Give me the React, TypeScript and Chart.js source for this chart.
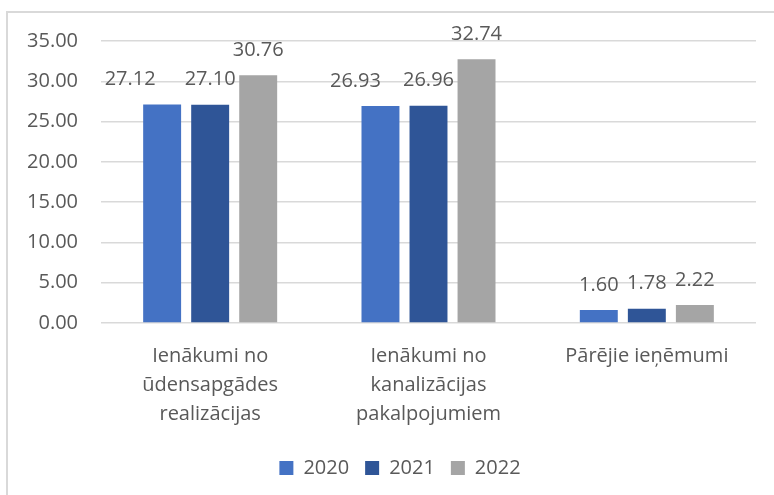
import React, { useEffect, useRef } from "react";
import { Chart, registerables } from "chart.js";

Chart.register(...registerables);

const categories: string[][] = [
  ["Ienākumi no", "ūdensapgādes", "realizācijas"],
  ["Ienākumi no", "kanalizācijas", "pakalpojumiem"],
  ["Pārējie ieņēmumi"],
];
const seriesNames = ["2020", "2021", "2022"];
const values2020 = [27.12, 26.93, 1.6];
const values2021 = [27.1, 26.96, 1.78];
const values2022 = [30.76, 32.74, 2.22];
const yTicks = [0, 5, 10, 15, 20, 25, 30, 35];

// manual nudges of a few data labels (as in the source chart)
const labelNudgeX = [
  [-32, -25, 0],
  [0, 0, 0],
  [0, 0, 0],
];

const TEXT = "#595959";
const FONT = '"Open Sans", sans-serif';

const labelPlugin = {
  id: "barLabels",
  afterLayout(chart: any) {
    if (chart.legend) {
      chart.legend.left += 22;
      chart.legend.right += 22;
    }
  },
  afterDatasetsDraw(chart: any) {
    const ctx = chart.ctx;
    ctx.save();
    ctx.font = `20px ${FONT}`;
    ctx.fillStyle = TEXT;
    ctx.textAlign = "center";
    ctx.textBaseline = "middle";
    chart.data.datasets.forEach((ds: any, di: number) => {
      const meta = chart.getDatasetMeta(di);
      meta.data.forEach((el: any, i: number) => {
        const v = ds.data[i] as number;
        ctx.fillText(v.toFixed(2), el.x + labelNudgeX[di][i], el.y - 25);
      });
    });
    ctx.restore();
  },
};

export default function App() {
  const ref = useRef<HTMLCanvasElement>(null);
  useEffect(() => {
    if (!ref.current) return;
    const chart = new Chart(ref.current, {
      type: "bar",
      data: {
        labels: categories,
        datasets: [
          { label: seriesNames[0], data: values2020, backgroundColor: "#4472C4" },
          { label: seriesNames[1], data: values2021, backgroundColor: "#2F5597" },
          { label: seriesNames[2], data: values2022, backgroundColor: "#A5A5A5" },
        ],
      },
      options: {
        animation: false,
        responsive: false,
        maintainAspectRatio: false,
        layout: { padding: { top: 41, left: 0, right: 18, bottom: 7 } },
        datasets: { bar: { categoryPercentage: 0.66, barPercentage: 0.79 } },
        plugins: {
          tooltip: { enabled: false },
          legend: {
            position: "bottom",
            labels: {
              boxWidth: 14,
              boxHeight: 14,
              padding: 16,
              color: TEXT,
              font: { family: FONT, size: 20 },
            },
          },
        },
        scales: {
          x: {
            grid: { display: false, drawTicks: false },
            border: { display: false },
            ticks: {
              color: TEXT,
              font: { family: FONT, size: 20, lineHeight: 1.45 },
              padding: 19,
              maxRotation: 0,
              autoSkip: false,
            },
            afterFit(scale: any) {
              scale.height = 119;
            },
          },
          y: {
            min: 0,
            max: 35,
            grid: { color: "#D9D9D9", lineWidth: 1.5, drawTicks: false },
            border: { display: false },
            afterBuildTicks(scale: any) {
              scale.ticks = yTicks.map((v) => ({ value: v }));
            },
            ticks: {
              color: TEXT,
              font: { family: FONT, size: 20 },
              padding: 23,
              callback: (v: any) => Number(v).toFixed(2),
            },
            afterFit(scale: any) {
              scale.width = 101;
            },
          },
        },
      },
      plugins: [labelPlugin],
    });
    return () => chart.destroy();
  }, []);
  return (
    <div
      style={{
        position: "fixed",
        left: 0,
        top: 0,
        width: 774,
        height: 495,
        overflow: "hidden",
        background: "#fff",
      }}
    >
      <div
        style={{
          position: "absolute",
          left: 6,
          top: 11,
          width: 820,
          height: 540,
          border: "2px solid #D9D9D9",
          boxSizing: "border-box",
        }}
      />
      <canvas
        ref={ref}
        width={774}
        height={495}
        style={{ position: "absolute", left: 0, top: 0, width: 774, height: 495 }}
      />
    </div>
  );
}
